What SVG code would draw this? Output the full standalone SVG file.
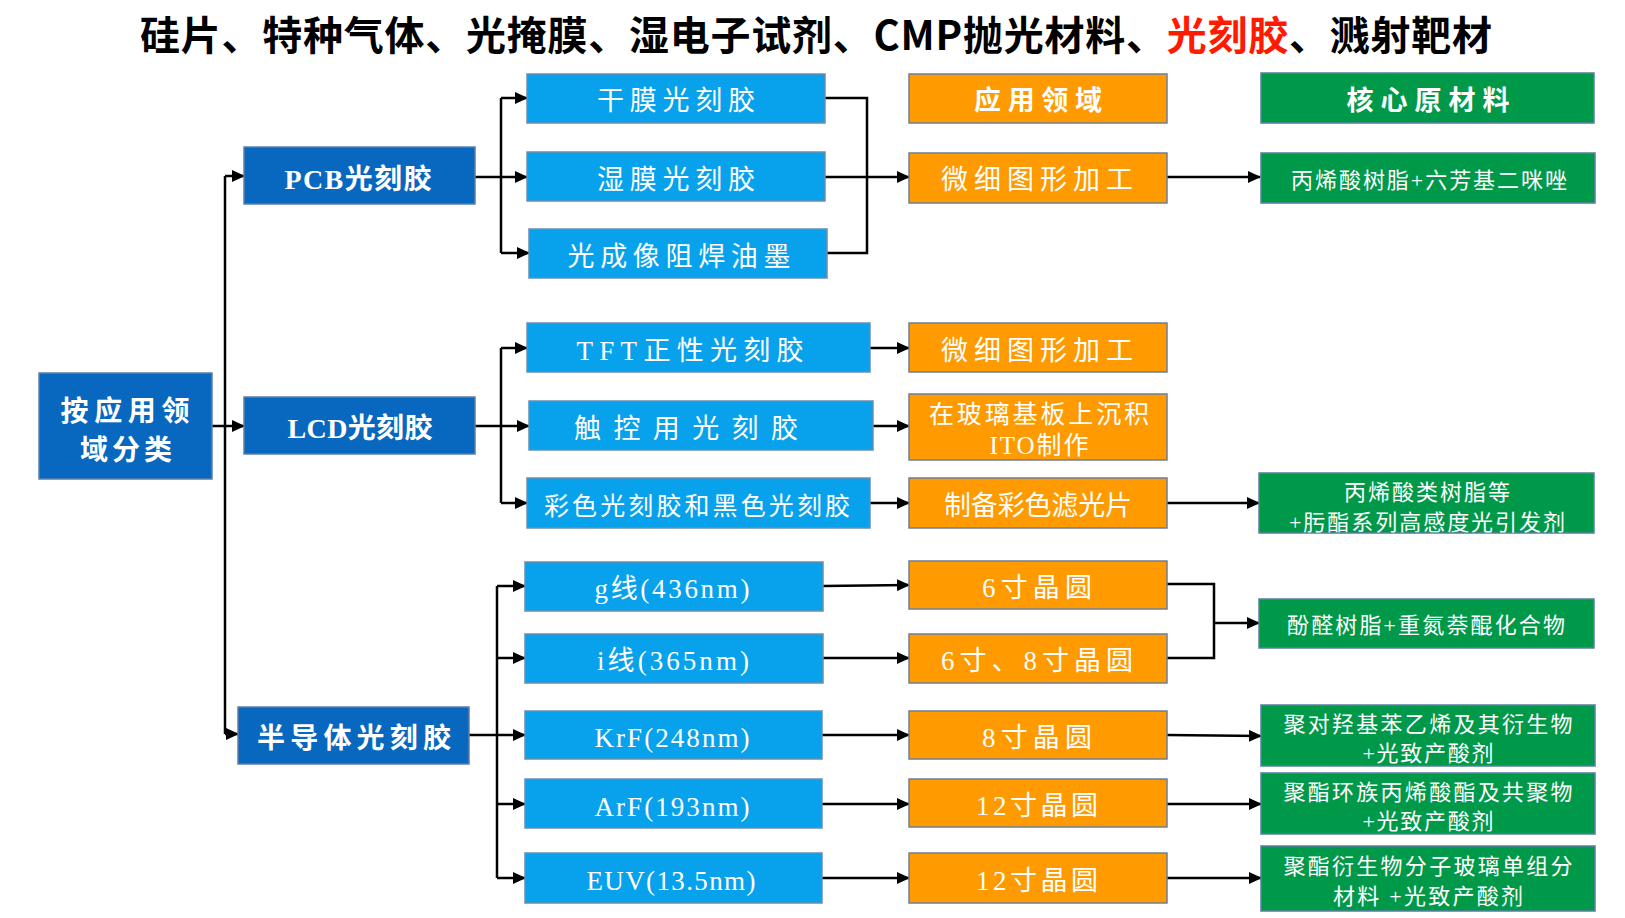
<svg xmlns="http://www.w3.org/2000/svg" width="1625" height="918" viewBox="0 0 1625 918">
<defs>
<marker id="ah" markerUnits="userSpaceOnUse" markerWidth="13" markerHeight="12" refX="12" refY="6" orient="auto">
<path d="M0,0 L13,6 L0,12 z" fill="#000"/>
</marker>
<style>
.bg{fill:#fff}
.dk{fill:#0867BF;stroke:#5E7FA8;stroke-width:1.5}
.lb{fill:#08A2EC;stroke:#6A8DB0;stroke-width:1.5}
.or{fill:#FF9A00;stroke:#6F7E96;stroke-width:1.5}
.gr{fill:#00994A;stroke:#5A7FA0;stroke-width:1.5}
text{fill:#fff;font-family:"Liberation Serif","Noto Sans CJK SC",serif;text-anchor:middle;dominant-baseline:central}
.t26{font-size:27px}
.t28{font-size:28px;font-weight:700}
.hd{font-size:27px;font-weight:700}
.t24{font-size:25px}
.t21{font-size:22px}
.title{fill:#000;font-family:"Noto Sans CJK SC","Liberation Sans",sans-serif;font-size:40px;font-weight:700;dominant-baseline:auto}
.red{fill:#FF1A00}
.ln{fill:none;stroke:#000;stroke-width:2.5}
</style>
</defs>
<rect class="bg" x="0" y="0" width="1625" height="918"/>
<g id="title">
<text class="title" x="816" y="50" textLength="1352" lengthAdjust="spacing">硅片、特种气体、光掩膜、湿电子试剂、CMP抛光材料、<tspan class="red">光刻胶</tspan>、溅射靶材</text>
</g>
<g id="connectors">
<polyline class="ln" points="212,426 225,426"/>
<polyline class="ln" points="225,176 225,734"/>
<polyline class="ln" points="225,176 244,176" marker-end="url(#ah)"/>
<polyline class="ln" points="225,426 244,426" marker-end="url(#ah)"/>
<polyline class="ln" points="225,734 238,734" marker-end="url(#ah)"/>
<polyline class="ln" points="475,177 501,177"/>
<polyline class="ln" points="501,98 501,253"/>
<polyline class="ln" points="501,98 527,98" marker-end="url(#ah)"/>
<polyline class="ln" points="501,177 527,177" marker-end="url(#ah)"/>
<polyline class="ln" points="501,253 529,253" marker-end="url(#ah)"/>
<polyline class="ln" points="825,98 867,98 867,253 827,253"/>
<polyline class="ln" points="825,177 909,177" marker-end="url(#ah)"/>
<polyline class="ln" points="1167,177 1260,177" marker-end="url(#ah)"/>
<polyline class="ln" points="475,426 501,426"/>
<polyline class="ln" points="501,348 501,503"/>
<polyline class="ln" points="501,348 527,348" marker-end="url(#ah)"/>
<polyline class="ln" points="501,426 529,426" marker-end="url(#ah)"/>
<polyline class="ln" points="501,503 527,503" marker-end="url(#ah)"/>
<polyline class="ln" points="870,348 909,348" marker-end="url(#ah)"/>
<polyline class="ln" points="873,426 909,426" marker-end="url(#ah)"/>
<polyline class="ln" points="870,503 909,503" marker-end="url(#ah)"/>
<polyline class="ln" points="1167,503 1259,503" marker-end="url(#ah)"/>
<polyline class="ln" points="469,735 497,735"/>
<polyline class="ln" points="497,586 497,878"/>
<polyline class="ln" points="497,586 525,586" marker-end="url(#ah)"/>
<polyline class="ln" points="497,658 525,658" marker-end="url(#ah)"/>
<polyline class="ln" points="497,735 525,735" marker-end="url(#ah)"/>
<polyline class="ln" points="497,804 525,804" marker-end="url(#ah)"/>
<polyline class="ln" points="497,878 525,878" marker-end="url(#ah)"/>
<polyline class="ln" points="823,586 909,585" marker-end="url(#ah)"/>
<polyline class="ln" points="823,658 909,658" marker-end="url(#ah)"/>
<polyline class="ln" points="822,735 909,735" marker-end="url(#ah)"/>
<polyline class="ln" points="822,804 909,804" marker-end="url(#ah)"/>
<polyline class="ln" points="822,878 909,878" marker-end="url(#ah)"/>
<polyline class="ln" points="1167,584 1214,584 1214,658 1167,658"/>
<polyline class="ln" points="1214,623 1259,623" marker-end="url(#ah)"/>
<polyline class="ln" points="1167,735 1261,736" marker-end="url(#ah)"/>
<polyline class="ln" points="1167,804 1261,804" marker-end="url(#ah)"/>
<polyline class="ln" points="1167,878 1261,878" marker-end="url(#ah)"/>
</g>
<g id="root"><rect class="dk" x="39" y="373" width="173" height="106"/><text class="t28" x="125" y="411" textLength="129">按应用领</text><text class="t28" x="126" y="450" textLength="92">域分类</text></g>
<g id="pcb"><rect class="dk" x="244" y="147" width="231" height="57"/><text class="t28" x="358" y="179" textLength="147">PCB光刻胶</text></g>
<g id="lcd"><rect class="dk" x="244" y="397" width="231" height="57"/><text class="t28" x="360" y="428" textLength="145">LCD光刻胶</text></g>
<g id="semi"><rect class="dk" x="238" y="707" width="231" height="57"/><text class="t28" x="354" y="738" textLength="194">半导体光刻胶</text></g>
<g id="dry"><rect class="lb" x="527" y="74" width="298" height="49"/><text class="t26" x="676" y="101" textLength="158">干膜光刻胶</text></g>
<g id="wet"><rect class="lb" x="527" y="152" width="298" height="49"/><text class="t26" x="676" y="180" textLength="158">湿膜光刻胶</text></g>
<g id="ink"><rect class="lb" x="529" y="229" width="298" height="49"/><text class="t26" x="679" y="257" textLength="223">光成像阻焊油墨</text></g>
<g id="tft"><rect class="lb" x="527" y="323" width="343" height="49"/><text class="t26" x="690" y="351" textLength="227">TFT正性光刻胶</text></g>
<g id="touch"><rect class="lb" x="529" y="401" width="344" height="49"/><text class="t26" x="686" y="429" textLength="224">触控用光刻胶</text></g>
<g id="color"><rect class="lb" x="527" y="478" width="343" height="50"/><text class="t24" x="697" y="506" textLength="306">彩色光刻胶和黑色光刻胶</text></g>
<g id="gline"><rect class="lb" x="525" y="562" width="298" height="49"/><text class="t26" x="672" y="589" textLength="155">g线(436nm)</text></g>
<g id="iline"><rect class="lb" x="525" y="634" width="298" height="49"/><text class="t26" x="673" y="661" textLength="152">i线(365nm)</text></g>
<g id="krf"><rect class="lb" x="525" y="711" width="297" height="48"/><text class="t26" x="672" y="738" textLength="155">KrF(248nm)</text></g>
<g id="arf"><rect class="lb" x="525" y="779" width="297" height="49"/><text class="t26" x="672" y="807" textLength="155">ArF(193nm)</text></g>
<g id="euv"><rect class="lb" x="525" y="853" width="297" height="50"/><text class="t26" x="671" y="881" textLength="169">EUV(13.5nm)</text></g>
<g id="app-head"><rect class="or" x="909" y="74" width="258" height="49"/><text class="hd" x="1038" y="101" textLength="128">应用领域</text></g>
<g id="app1"><rect class="or" x="909" y="153" width="258" height="50"/><text class="t26" x="1037" y="180" textLength="192">微细图形加工</text></g>
<g id="app2"><rect class="or" x="909" y="323" width="258" height="49"/><text class="t26" x="1037" y="351" textLength="192">微细图形加工</text></g>
<g id="app3"><rect class="or" x="909" y="394" width="258" height="66"/><text class="t24" x="1039" y="414" textLength="220">在玻璃基板上沉积</text><text class="t24" x="1039" y="445" textLength="99">ITO制作</text></g>
<g id="app4"><rect class="or" x="909" y="478" width="258" height="50"/><text class="t26" x="1038" y="506" textLength="188">制备彩色滤光片</text></g>
<g id="app5"><rect class="or" x="909" y="561" width="258" height="48"/><text class="t26" x="1037" y="588" textLength="110">6寸晶圆</text></g>
<g id="app6"><rect class="or" x="909" y="634" width="258" height="49"/><text class="t26" x="1037" y="661" textLength="192">6寸、8寸晶圆</text></g>
<g id="app7"><rect class="or" x="909" y="711" width="258" height="48"/><text class="t26" x="1037" y="738" textLength="110">8寸晶圆</text></g>
<g id="app8"><rect class="or" x="909" y="779" width="258" height="48"/><text class="t26" x="1037" y="806" textLength="122">12寸晶圆</text></g>
<g id="app9"><rect class="or" x="909" y="853" width="258" height="50"/><text class="t26" x="1037" y="881" textLength="122">12寸晶圆</text></g>
<g id="mat-head"><rect class="gr" x="1261" y="73" width="333" height="50"/><text class="hd" x="1428" y="101" textLength="163">核心原材料</text></g>
<g id="mat1"><rect class="gr" x="1261" y="153" width="334" height="50"/><text class="t21" x="1429" y="180" textLength="276">丙烯酸树脂+六芳基二咪唑</text></g>
<g id="mat2"><rect class="gr" x="1259" y="473" width="335" height="60"/><text class="t21" x="1427" y="492" textLength="166">丙烯酸类树脂等</text><text class="t21" x="1427" y="522" textLength="276">+肟酯系列高感度光引发剂</text></g>
<g id="mat3"><rect class="gr" x="1259" y="599" width="335" height="49"/><text class="t21" x="1426" y="625" textLength="278">酚醛树脂+重氮萘醌化合物</text></g>
<g id="mat4"><rect class="gr" x="1261" y="705" width="334" height="61"/><text class="t21" x="1428" y="724" textLength="289">聚对羟基苯乙烯及其衍生物</text><text class="t21" x="1428" y="753" textLength="131">+光致产酸剂</text></g>
<g id="mat5"><rect class="gr" x="1261" y="773" width="334" height="61"/><text class="t21" x="1428" y="792" textLength="289">聚酯环族丙烯酸酯及共聚物</text><text class="t21" x="1428" y="821" textLength="131">+光致产酸剂</text></g>
<g id="mat6"><rect class="gr" x="1261" y="846" width="334" height="65"/><text class="t21" x="1428" y="866" textLength="289">聚酯衍生物分子玻璃单组分</text><text class="t21" x="1428" y="896" textLength="190">材料 +光致产酸剂</text></g>
</svg>
